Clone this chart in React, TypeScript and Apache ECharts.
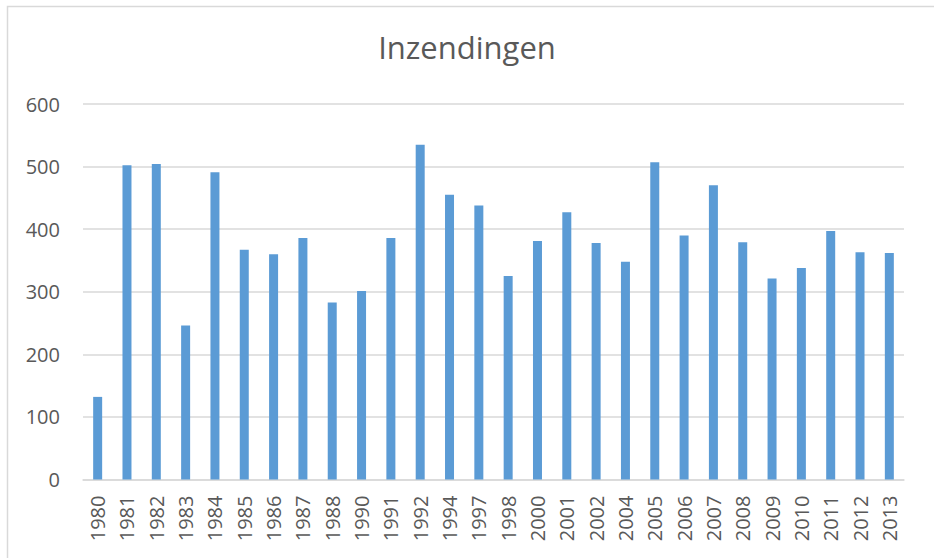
import React, { useEffect, useRef } from "react";
import * as echarts from "echarts";

const years = [
  "1980", "1981", "1982", "1983", "1984", "1985", "1986", "1987", "1988", "1990",
  "1991", "1992", "1994", "1997", "1998", "2000", "2001", "2002", "2004", "2005",
  "2006", "2007", "2008", "2009", "2010", "2011", "2012", "2013",
];
const entries = [
  132, 502, 504, 246, 491, 367, 360, 386, 283, 301,
  386, 535, 455, 438, 325, 381, 427, 378, 348, 507,
  390, 470, 379, 321, 338, 397, 363, 362,
];
const titleText = "Inzendingen";
const yTicks = { min: 0, max: 600, interval: 100 };

export default function App() {
  const ref = useRef<HTMLDivElement>(null);
  useEffect(() => {
    if (!ref.current) return;
    const chart = echarts.init(ref.current, null, { renderer: "svg" });
    const font = "'Open Sans', 'Noto Sans', sans-serif";
    chart.setOption({
      animation: false,
      backgroundColor: "#ffffff",
      title: {
        text: titleText,
        left: "center",
        top: 26,
        textStyle: { fontFamily: font, fontSize: 31, fontWeight: "normal", color: "#595959" },
      },
      graphic: [
        {
          type: "rect",
          shape: { x: 7.5, y: 6.5, width: 960, height: 600 },
          style: { fill: "none", stroke: "#d9d9d9", lineWidth: 1.5 },
          silent: true,
          z: -1,
        },
      ],
      grid: { left: 83, right: 30, top: 104, bottom: 78.5, containLabel: false },
      xAxis: {
        type: "category",
        data: years,
        axisLine: { show: true, lineStyle: { color: "#d9d9d9", width: 1.5 } },
        axisTick: { show: false },
        axisLabel: {
          rotate: 90,
          margin: 16,
          interval: 0,
          fontFamily: font,
          fontSize: 20,
          color: "#595959",
        },
      },
      yAxis: {
        type: "value",
        min: yTicks.min,
        max: yTicks.max,
        interval: yTicks.interval,
        axisLine: { show: false },
        axisTick: { show: false },
        splitLine: { lineStyle: { color: "#d9d9d9", width: 1.5 } },
        axisLabel: { margin: 23, fontFamily: font, fontSize: 20, color: "#595959" },
      },
      series: [
        {
          type: "bar",
          data: entries,
          barWidth: 9,
          itemStyle: { color: "#5b9bd5" },
        },
      ],
    });
    return () => chart.dispose();
  }, []);
  return <div ref={ref} style={{ width: 934, height: 558, position: "absolute", left: 0, top: 0 }} />;
}
